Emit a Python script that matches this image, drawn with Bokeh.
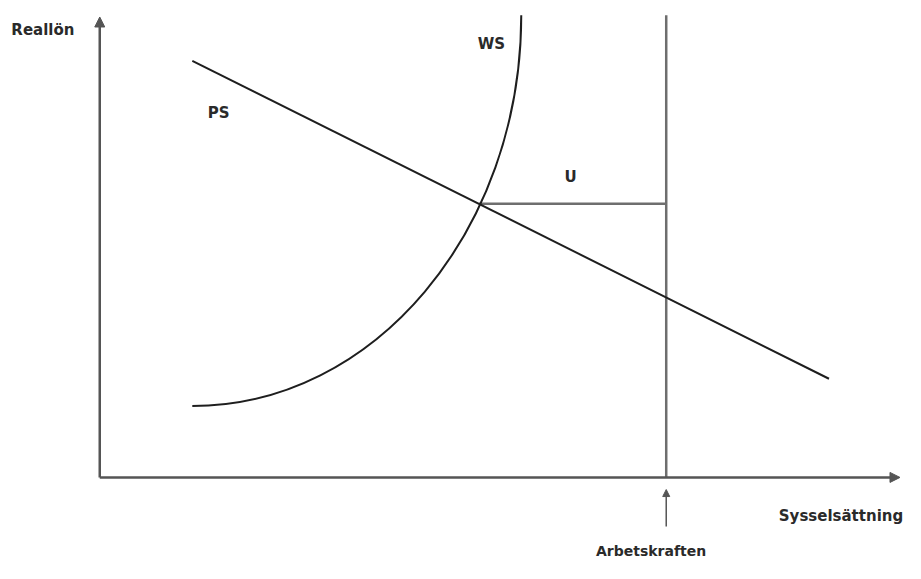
from bokeh.plotting import figure
from bokeh.models import Range1d, Arrow, NormalHead
from bokeh.core.properties import value
from bokeh.embed import file_html
from bokeh.resources import INLINE

# ---- data (abstract units: employment on x, real wage on y) ----
ps_x = [11.6, 91.4]              # price-setting line end points
ps_y = [92.75, 21.97]
ws_start = (11.6, 15.9)          # wage-setting curve (bezier)
ws_ctrl1 = (34.37, 15.9)
ws_ctrl2 = (52.83, 54.85)
ws_end = (52.83, 102.9)
labour_force = 71.0              # Arbetskraften
eq_point = (47.54, 60.9)         # intersection PS/WS
axis_x_max = 100.3
axis_y_max = 102.5
vline_top = 102.9

labels = {
    "y": "Reallön",
    "x": "Sysselsättning",
    "lf": "Arbetskraften",
    "ws": "WS",
    "ps": "PS",
    "u": "U",
}

W, H = 905, 563
p = figure(width=W, height=H, output_backend="svg", toolbar_location=None,
           x_range=Range1d(-12.44, 100.99), y_range=Range1d(-19.16, 106.17),
           min_border=0, outline_line_color=None)
p.axis.visible = False
p.grid.visible = False
p.background_fill_color = "white"
p.border_fill_color = "white"

axis_col = "#555555"
line_col = "#1e1e1e"
gray_col = "#6e6e6e"

# axes as arrows
p.add_layout(Arrow(x_start=0, y_start=0, x_end=axis_x_max, y_end=0,
                   line_color=axis_col, line_width=2.5,
                   end=NormalHead(size=10, fill_color=axis_col, line_color=axis_col)))
p.add_layout(Arrow(x_start=0, y_start=0, x_end=0, y_end=axis_y_max,
                   line_color=axis_col, line_width=2.5,
                   end=NormalHead(size=10, fill_color=axis_col, line_color=axis_col)))

# labour force vertical line
p.line([labour_force, labour_force], [0, vline_top], line_color=gray_col, line_width=2.5)
# unemployment gap
p.line([eq_point[0], labour_force], [eq_point[1], eq_point[1]], line_color=gray_col, line_width=2.5)

# PS line
p.line(ps_x, ps_y, line_color=line_col, line_width=2)
# WS curve
p.bezier(x0=[ws_start[0]], y0=[ws_start[1]], x1=[ws_end[0]], y1=[ws_end[1]],
         cx0=[ws_ctrl1[0]], cy0=[ws_ctrl1[1]], cx1=[ws_ctrl2[0]], cy1=[ws_ctrl2[1]],
         line_color=line_col, line_width=2)

# small arrow pointing to labour force
p.add_layout(Arrow(x_start=labour_force, y_start=-10.9, x_end=labour_force, y_end=-2.7,
                   line_color=axis_col, line_width=1.5,
                   end=NormalHead(size=7, fill_color=axis_col, line_color=axis_col)))

font = value("DejaVu Sans")
def label(x, y, t, align="center", size="15px"):
    p.text(x=[x], y=[y], text=[t], text_font=font, text_font_size=size,
           text_font_style="bold", text_align=align, text_baseline="middle",
           text_color="#2a2a2a")

label(-11.08, 99.5, labels["y"], align="left")
label(49.1, 96.4, labels["ws"])
label(14.9, 81.1, labels["ps"])
label(59.0, 66.8, labels["u"])
label(100.7, -8.55, labels["x"], align="right")
label(69.1, -16.3, labels["lf"], size="14px")

open("out.html", "w").write(file_html(p, INLINE))
